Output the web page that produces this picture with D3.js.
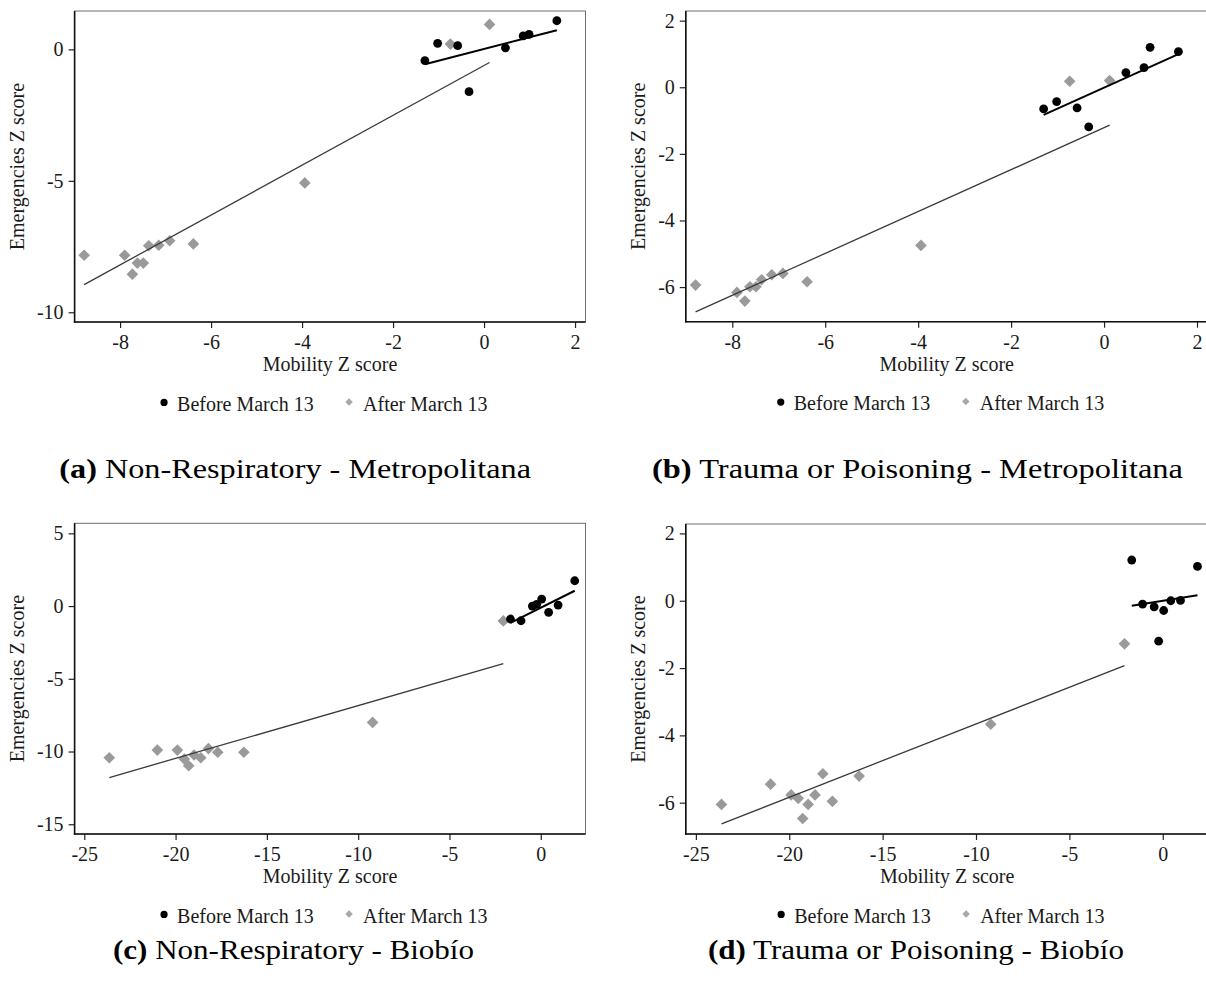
<!DOCTYPE html>
<html>
<head>
<meta charset="utf-8">
<script src="https://cdn.jsdelivr.net/npm/d3@7"></script>
<style>
  html, body { margin: 0; padding: 0; background: #fff; }
  svg { display: block; }
</style>
</head>
<body>
<svg id="chart" width="1206" height="998"></svg>
<script>
// ---- Mobility Z scores (shared by both outcome types within a region) ----
const metroMobilityBefore = [-1.30, -1.02, -0.58, -0.33, 0.47, 0.86, 0.99, 1.60];
const metroMobilityAfter  = [-0.74, 0.12, -3.94, -8.79, -7.90, -7.73, -7.62, -7.49, -7.37, -7.15, -6.91, -6.39];
const bioMobilityBefore   = [-1.66, -1.08, -0.46, -0.22, 0.05, 0.43, 0.95, 1.86];
const bioMobilityAfter    = [-23.63, -21.00, -19.90, -19.52, -19.28, -18.99, -18.62, -18.20, -17.69, -16.26, -9.21, -2.05];

// ---- Emergencies Z scores ----
const nonRespMetroBefore = [-0.43, 0.23, 0.14, -1.61, 0.06, 0.51, 0.57, 1.09];
const nonRespMetroAfter  = [0.20, 0.95, -5.08, -7.83, -7.83, -8.55, -8.13, -8.13, -7.47, -7.45, -7.28, -7.40];
const traumaMetroBefore  = [-0.65, -0.43, -0.62, -1.19, 0.44, 0.59, 1.20, 1.07];
const traumaMetroAfter   = [0.18, 0.20, -4.75, -5.94, -6.16, -6.42, -5.99, -5.99, -5.78, -5.63, -5.59, -5.84];
const nonRespBioBefore   = [-0.89, -1.01, 0.00, 0.12, 0.48, -0.43, 0.07, 1.74];
const nonRespBioAfter    = [-10.43, -9.90, -9.90, -10.52, -10.98, -10.24, -10.43, -9.80, -10.05, -10.05, -8.00, -1.02];
const traumaBioBefore    = [1.21, -0.10, -0.18, -1.20, -0.29, 0.00, 0.01, 1.02];
const traumaBioAfter     = [-6.05, -5.45, -5.77, -5.87, -6.47, -6.05, -5.77, -5.14, -5.96, -5.21, -3.67, -1.28];

// ---- Linear fits: [intercept, slope] ----
const fitNonRespMetroBefore = [0.015, 0.446];
const fitNonRespMetroAfter  = [-0.614, 0.948];
const fitTraumaMetroBefore  = [-0.011, 0.630];
const fitTraumaMetroAfter   = [-1.215, 0.629];
const fitNonRespBioBefore   = [-0.114, 0.628];
const fitNonRespBioAfter    = [-3.220, 0.3625];
const fitTraumaBioBefore    = [-0.002, 0.088];
const fitTraumaBioAfter     = [-1.480, 0.218];

// ---- Tick labels ----
const metroXTicks = [-8, -6, -4, -2, 0, 2];
const bioXTicks = [-25, -20, -15, -10, -5, 0];
const nonRespMetroYTicks = [-10, -5, 0];
const traumaMetroYTicks = [-6, -4, -2, 0, 2];
const nonRespBioYTicks = [-15, -10, -5, 0, 5];
const traumaBioYTicks = [-6, -4, -2, 0, 2];

// ---- Text ----
const legendLabels = ["Before March 13", "After March 13"];
const xAxisTitle = "Mobility Z score";
const yAxisTitle = "Emergencies Z score";

const FONT = "'Liberation Serif', 'Times New Roman', serif";
const TEXT_COLOR = "#1a1a1a";
const AFTER_COLOR = "#9a9a9a";

const panels = [
  { tag: "(a)", title: "Non-Respiratory - Metropolitana",
    xb: metroMobilityBefore, yb: nonRespMetroBefore, xa: metroMobilityAfter, ya: nonRespMetroAfter,
    fb: fitNonRespMetroBefore, fa: fitNonRespMetroAfter,
    xTicks: metroXTicks, yTicks: nonRespMetroYTicks,
    xDomain: [-9.0, 2.23], yDomain: [-10.37, 1.46],
    box: { l: 74.6, r: 585.5, t: 11, b: 322 }, yTitleX: 17.2,
    cap: { x: 59.3, len: 471.7, y: 478 } },
  { tag: "(b)", title: "Trauma or Poisoning - Metropolitana",
    xb: metroMobilityBefore, yb: traumaMetroBefore, xa: metroMobilityAfter, ya: traumaMetroAfter,
    fb: fitTraumaMetroBefore, fa: fitTraumaMetroAfter,
    xTicks: metroXTicks, yTicks: traumaMetroYTicks,
    xDomain: [-9.0, 2.23], yDomain: [-7.04, 2.29],
    box: { l: 685.8, r: 1207.7, t: 11, b: 321.7 }, yTitleX: 638.6,
    cap: { x: 652, len: 531, y: 478 } },
  { tag: "(c)", title: "Non-Respiratory - Biobío",
    xb: bioMobilityBefore, yb: nonRespBioBefore, xa: bioMobilityAfter, ya: nonRespBioAfter,
    fb: fitNonRespBioBefore, fa: fitNonRespBioAfter,
    xTicks: bioXTicks, yTicks: nonRespBioYTicks,
    xDomain: [-25.53, 2.45], yDomain: [-15.67, 5.69],
    box: { l: 74.6, r: 585.5, t: 523.3, b: 834 }, yTitleX: 17.2,
    cap: { x: 113, len: 361, y: 959 } },
  { tag: "(d)", title: "Trauma or Poisoning - Biobío",
    xb: bioMobilityBefore, yb: traumaBioBefore, xa: bioMobilityAfter, ya: traumaBioAfter,
    fb: fitTraumaBioBefore, fa: fitTraumaBioAfter,
    xTicks: bioXTicks, yTicks: traumaBioYTicks,
    xDomain: [-25.54, 2.45], yDomain: [-6.93, 2.28],
    box: { l: 685.8, r: 1208.5, t: 524, b: 834 }, yTitleX: 638.6,
    cap: { x: 708, len: 416, y: 959 } }
];

const svg = d3.select("#chart");
const fmt = d => String(d);

panels.forEach(p => {
  const { l, r, t, b } = p.box;
  const x = d3.scaleLinear().domain(p.xDomain).range([l, r]);
  const y = d3.scaleLinear().domain(p.yDomain).range([b, t]);
  const g = svg.append("g");

  // plot region frame
  g.append("rect")
    .attr("x", l).attr("y", t).attr("width", r - l).attr("height", b - t)
    .attr("fill", "none").attr("stroke", "#707070").attr("stroke-width", 1);

  // y axis
  const yAxis = g.append("g")
    .attr("transform", `translate(${l},0)`)
    .call(d3.axisLeft(y).tickValues(p.yTicks).tickSize(6).tickPadding(5).tickFormat(fmt));
  yAxis.select(".domain").remove();

  // x axis
  const xAxis = g.append("g")
    .attr("transform", `translate(0,${b})`)
    .call(d3.axisBottom(x).tickValues(p.xTicks).tickSize(6).tickPadding(7).tickFormat(fmt));
  xAxis.select(".domain").remove();

  [yAxis, xAxis].forEach(ax => {
    ax.attr("font-family", FONT);
    ax.selectAll("line").attr("stroke", "#222").attr("stroke-width", 1.2);
    ax.selectAll("text").attr("font-family", FONT).attr("font-size", 20).attr("fill", TEXT_COLOR);
  });

  // axis lines
  g.append("line").attr("x1", l).attr("x2", l).attr("y1", t).attr("y2", b + 0.7)
    .attr("stroke", "#111").attr("stroke-width", 1.6);
  g.append("line").attr("x1", l - 0.7).attr("x2", r).attr("y1", b).attr("y2", b)
    .attr("stroke", "#111").attr("stroke-width", 1.6);

  // axis titles
  g.append("text")
    .attr("x", (l + r) / 2).attr("y", b + 49)
    .attr("text-anchor", "middle")
    .attr("font-family", FONT).attr("font-size", 20).attr("fill", TEXT_COLOR)
    .text(xAxisTitle);
  g.append("text")
    .attr("transform", `translate(${p.yTitleX},${(t + b) / 2}) rotate(-90)`)
    .attr("text-anchor", "middle").attr("dy", "0.32em")
    .attr("font-family", FONT).attr("font-size", 20).attr("fill", TEXT_COLOR)
    .text(yAxisTitle);

  // markers: after (grey diamonds), before (black dots)
  const after = d3.zip(p.xa, p.ya);
  const before = d3.zip(p.xb, p.yb);
  const diamond = d3.symbol(d3.symbolSquare, 68);
  g.append("g").selectAll("path").data(after).join("path")
    .attr("d", diamond)
    .attr("transform", d => `translate(${x(d[0])},${y(d[1])}) rotate(45)`)
    .attr("fill", AFTER_COLOR);
  g.append("g").selectAll("circle").data(before).join("circle")
    .attr("cx", d => x(d[0])).attr("cy", d => y(d[1])).attr("r", 4.4)
    .attr("fill", "#000");

  // fitted lines over each group's mobility range
  const fitLine = (xs, fit) => {
    const ext = d3.extent(xs);
    return ext.map(v => [x(v), y(fit[0] + fit[1] * v)]);
  };
  g.append("path")
    .attr("d", d3.line()(fitLine(p.xa, p.fa)))
    .attr("fill", "none").attr("stroke", "#3a3a3a").attr("stroke-width", 1.3);
  g.append("path")
    .attr("d", d3.line()(fitLine(p.xb, p.fb)))
    .attr("fill", "none").attr("stroke", "#000").attr("stroke-width", 2);

  // legend
  const cx = (l + r) / 2;
  const ly = b + 88.7;
  const lg = g.append("g");
  lg.append("circle").attr("cx", cx - 166).attr("cy", ly - 8.3).attr("r", 3.6).attr("fill", "#000");
  lg.append("text").attr("x", cx - 153).attr("y", ly)
    .attr("font-family", FONT).attr("font-size", 20).attr("fill", TEXT_COLOR)
    .text(legendLabels[0]);
  lg.append("path").attr("d", d3.symbol(d3.symbolSquare, 28))
    .attr("transform", `translate(${cx + 19},${ly - 8.8}) rotate(45)`)
    .attr("fill", "#a8a8a8");
  lg.append("text").attr("x", cx + 33).attr("y", ly)
    .attr("font-family", FONT).attr("font-size", 20).attr("fill", TEXT_COLOR)
    .text(legendLabels[1]);

  // sub-figure caption
  const cap = svg.append("text")
    .attr("x", p.cap.x).attr("y", p.cap.y)
    .attr("font-family", FONT).attr("font-size", 27).attr("fill", "#000")
    .attr("textLength", p.cap.len).attr("lengthAdjust", "spacingAndGlyphs");
  cap.append("tspan").attr("font-weight", "bold").text(p.tag);
  cap.append("tspan").text(" " + p.title);
});
</script>
</body>
</html>
